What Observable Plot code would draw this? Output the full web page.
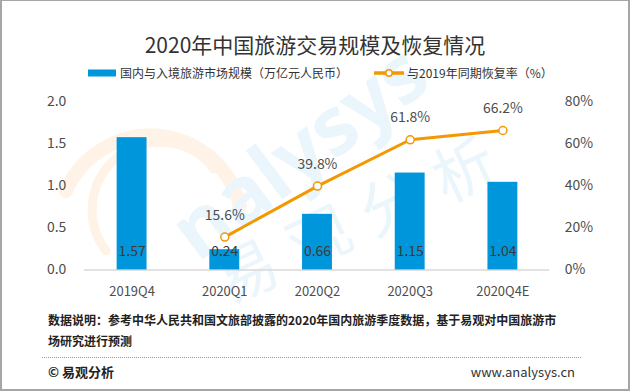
<!DOCTYPE html>
<html>
<head>
<meta charset="utf-8">
<script src="https://cdn.jsdelivr.net/npm/d3@7"></script>
<script src="https://cdn.jsdelivr.net/npm/@observablehq/plot@0.6"></script>
<style>
  html, body { margin: 0; padding: 0; background: #fff; }
  body { font-family: "Noto Sans CJK SC", "Noto Sans", sans-serif; }
  #frame { position: relative; width: 630px; height: 391px; box-sizing: border-box; border: 2px solid #a6a6a6; border-top-width: 1px; overflow: hidden; background: #fff; }
  .abs { position: absolute; white-space: nowrap; }
  #title { left: 0; width: 626px; top: 30px; text-align: center; font-size: 21px; line-height: 26px; color: #333; }
  .legtext { font-size: 12px; line-height: 14px; color: #333; top: 65px; }
  #caption { left: 46px; top: 308px; font-size: 12px; line-height: 21px; font-weight: bold; color: #222; }
  #dots { left: 40px; top: 356px; width: 539px; height: 0; border-top: 1px dotted #9a9a9a; }
  #copy { left: 46px; top: 362px; font-size: 13px; line-height: 18px; font-weight: bold; color: #222; }
  #url { right: 53px; top: 362px; font-size: 13px; line-height: 18px; color: #333; }
  #chart { left: -2px; top: 87px; }
  #wm { left: 0; top: 0; pointer-events: none; }
</style>
</head>
<body>
<div id="frame">
  <svg id="wm" class="abs" width="626" height="388" aria-hidden="true">
    <path d="M 64 190 A 92 92 0 0 1 238 205" fill="none" stroke="#fef3e6" stroke-width="14" stroke-linecap="round"></path>
    <path d="M 104 250 A 62 62 0 0 1 212 168" fill="none" stroke="#fef3e6" stroke-width="9" stroke-linecap="round"></path>
    <text transform="translate(196,262) rotate(-37)" font-size="80" font-weight="bold" fill="#eaf5fc" font-family="Noto Sans, sans-serif">nalysys</text>
    <text transform="translate(226,304) rotate(-25)" font-size="62" letter-spacing="18" fill="#eaf5fc" font-family="Noto Sans CJK SC, sans-serif">易观分析</text>
  </svg>
  <div id="chart" class="abs"></div>
  <div id="title" class="abs">2020年中国旅游交易规模及恢复情况</div>
  <svg class="abs" style="left:86px;top:66px" width="30" height="12"><rect x="0" y="2.5" width="28" height="7" fill="#0096db"></rect></svg>
  <div class="abs legtext" style="left:118px">国内与入境旅游市场规模（万亿元人民币）</div>
  <svg class="abs" style="left:371px;top:66px" width="34" height="12"><line x1="1" x2="31" y1="6" y2="6" stroke="#f39800" stroke-width="3.5"></line><circle cx="16" cy="6" r="3.2" fill="#fff" stroke="#f39800" stroke-width="1.5"></circle></svg>
  <div class="abs legtext" style="left:405px">与2019年同期恢复率（%）</div>
  <div id="caption" class="abs">数据说明：参考中华人民共和国文旅部披露的2020年国内旅游季度数据，基于易观对中国旅游市<br>场研究进行预测</div>
  <div id="dots" class="abs"></div>
  <div id="copy" class="abs">© 易观分析</div>
  <div id="url" class="abs">www.analysys.cn</div>
</div>
<script>
const quarters = ["2019Q4", "2020Q1", "2020Q2", "2020Q3", "2020Q4E"];
const marketSize = [1.57, 0.24, 0.66, 1.15, 1.04];
const recoveryQuarters = ["2020Q1", "2020Q2", "2020Q3", "2020Q4E"];
const recoveryRate = [15.6, 39.8, 61.8, 66.2];
const leftTicks = [0, 0.5, 1.0, 1.5, 2.0];
const rightTicks = [0, 20, 40, 60, 80];

const bars = quarters.map((q, i) => ({q, v: marketSize[i]}));
const rates = recoveryQuarters.map((q, i) => ({q, r: recoveryRate[i]}));
const rateToY = r => r / 40; // 80% aligns with 2.0

const blue = "#0096db";
const orange = "#f39800";
const textCol = "#4d4d4d";
const font = "\"Noto Sans CJK SC\", \"Noto Sans\", sans-serif";

const chart = Plot.plot({
  width: 630,
  height: 215,
  marginTop: 13,
  marginBottom: 33,
  marginLeft: 84,
  marginRight: 79,
  style: {fontFamily: font, fontSize: "14px", color: textCol, background: "transparent"},
  x: {domain: quarters, paddingInner: 0.68, paddingOuter: 0.34},
  y: {domain: [0, 2]},
  marks: [
    Plot.ruleY([0], {stroke: "#d9d9d9", strokeWidth: 1.5}),
    Plot.barY(bars, {x: "q", y: "v", fill: blue}),
    Plot.text(bars, {x: "q", y: () => 0, dy: -18, text: d => d3.format(".2f")(d.v), fill: "#3a3a3a", fontSize: 14}),
    Plot.line(rates, {x: "q", y: d => rateToY(d.r), stroke: orange, strokeWidth: 3}),
    Plot.dot(rates, {x: "q", y: d => rateToY(d.r), r: 4, fill: "#fff", stroke: orange, strokeWidth: 1.5}),
    Plot.text(rates, {x: "q", y: d => rateToY(d.r), dy: -22, text: d => d.r.toFixed(1) + "%", fill: textCol, fontSize: 14}),
    Plot.axisY(leftTicks, {anchor: "left", tickSize: 0, tickPadding: 18, tickFormat: d3.format(".1f"), label: null, fill: textCol, fontSize: 14}),
    Plot.axisY(rightTicks.map(rateToY), {anchor: "right", tickSize: 0, tickPadding: 15, tickFormat: d => Math.round(d * 40) + "%", label: null, fill: textCol, fontSize: 14}),
    Plot.axisX({anchor: "bottom", tickSize: 0, tickPadding: 17, label: null, fill: textCol, fontSize: 13})
  ]
});
document.getElementById("chart").appendChild(chart);
</script>
</body>
</html>
